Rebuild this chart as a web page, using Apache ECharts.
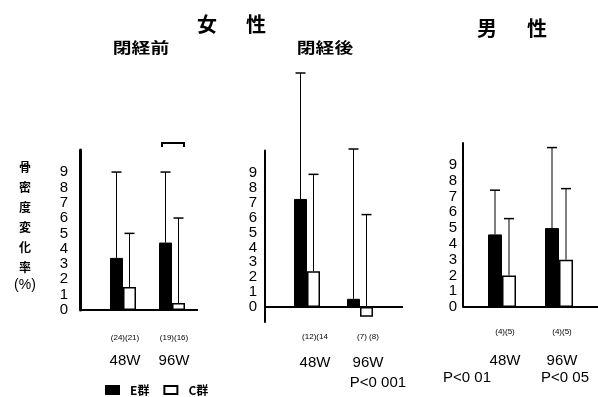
<!DOCTYPE html>
<html><head><meta charset="utf-8">
<script src="https://cdn.jsdelivr.net/npm/echarts@6/dist/echarts.min.js"></script>
<style>html,body{margin:0;padding:0;background:#fff}#c{width:598px;height:397px}</style>
</head><body><div id="c"></div>
<script>
// ---- data ----
const weeks = ['48W', '96W'];
const yTickLabels = ['0','1','2','3','4','5','6','7','8','9'];
// 女性 閉経前
const preE = [3.4, 4.4];
const preC = [1.5, 0.45];
const preEtop = [9.0, 9.0];
const preCtop = [5.0, 6.0];
const preN = ['(24)(21)', '(19)(16)'];
// 女性 閉経後
const postE = [7.25, 0.55];
const postC = [2.4, -0.65];
const postEtop = [15.7, 10.6];
const postCtop = [8.9, 6.2];
const postN = ['(12)(14', '(7) (8)'];
// 男性
const maleE = [4.6, 5.0];
const maleC = [2.0, 3.0];
const maleEtop = [7.4, 10.1];
const maleCtop = [5.6, 7.5];
const maleN = ['(4)(5)', '(4)(5)'];
// significance bracket (閉経前 96W)
const bracketVal = [[1, 10.9]];
const pTexts = ['P<0 001', 'P<0 01', 'P<0 05'];

// ---- layout / style ----
const JP = '"Noto Sans CJK JP", sans-serif';
const LAT = '"Liberation Sans", Arial, sans-serif';
const panels = [
  {grid:{left:98.5, top:150, width:98, height:160}, min:0, max:10.44, yOff:18.5, yW:3, lblM:12,
   extL:18.5, extR:1.5, barW:13, nM:24, wLH:38, pad:4, E:preE, C:preC, Et:preEtop, Ct:preCtop, N:preN},
  {grid:{left:280.5, top:150.5, width:106, height:171.4}, min:-1, max:10.5, yOff:15.5, yW:2, lblM:8,
   extL:15.5, extR:16.5, barW:13, nM:11, wLH:44, pad:16, E:postE, C:postC, Et:postEtop, Ct:postCtop, N:postN},
  {grid:{left:473.5, top:143, width:114, height:164}, min:0, max:10.39, yOff:10.5, yW:2, lblM:6,
   extL:10.5, extR:10.5, barW:14, nM:21, wLH:50, pad:6, E:maleE, C:maleC, Et:maleEtop, Ct:maleCtop, N:maleN}
];

function errSeries(gi, vals, tops, side, barW) {
  return {
    type: 'custom', xAxisIndex: gi, yAxisIndex: gi, clip: false, z: 5, silent: true,
    data: tops.map((t, i) => [i, Math.max(vals[i], 0), t]),
    renderItem(params, api) {
      const b = api.coord([api.value(0), api.value(1)]);
      const t = api.coord([api.value(0), api.value(2)]);
      const x = b[0] + side * barW / 2;
      return {type: 'group', children: [
        {type: 'line', shape: {x1: x, y1: b[1], x2: x, y2: t[1]}, style: {stroke: '#000', lineWidth: 1}},
        {type: 'line', shape: {x1: x - 5, y1: t[1], x2: x + 5, y2: t[1]}, style: {stroke: '#000', lineWidth: 1.5}}
      ]};
    }
  };
}

const grids = [], xAxes = [], yAxes = [], series = [];
panels.forEach((p, gi) => {
  grids.push(p.grid);
  const S = 2 * Math.max(p.extL, p.extR);
  xAxes.push({
    type: 'category', gridIndex: gi, data: weeks,
    axisLine: {show: true, onZero: true, lineStyle: {color: '#000', width: 2},
      symbol: ['rect', 'rect'], symbolSize: [2, S], symbolOffset: [S / 2 - p.extL, p.extR - S / 2]},
    axisTick: {show: false},
    axisLabel: {
      interval: 0, hideOverlap: false,
      margin: p.nM, padding: [0, 0, 0, p.pad],
      formatter: (v, i) => '{n|' + p.N[i] + '}\n{w|' + v + '}',
      rich: {
        n: {fontSize: 8, lineHeight: 8, fontFamily: LAT, color: '#000'},
        w: {fontSize: 15, lineHeight: p.wLH, fontFamily: LAT, color: '#000'}
      }
    }
  });
  yAxes.push({
    type: 'value', gridIndex: gi, min: p.min, max: p.max, interval: 1, offset: p.yOff,
    splitLine: {show: false}, axisTick: {show: false},
    axisLine: {show: true, lineStyle: {color: '#000', width: p.yW}},
    axisLabel: {margin: p.lblM, fontSize: 15, fontFamily: LAT, color: '#000',
      formatter: v => (v >= 0 && v <= 9 && Number.isInteger(v)) ? yTickLabels[v] : ''}
  });
  series.push({
    name: 'E群', type: 'bar', xAxisIndex: gi, yAxisIndex: gi, data: p.E, barWidth: p.barW, barGap: 0,
    itemStyle: {color: '#000', borderColor: '#000', borderWidth: 1}, z: 3
  });
  series.push({
    name: 'C群', type: 'bar', xAxisIndex: gi, yAxisIndex: gi, data: p.C, barWidth: p.barW, barGap: 0,
    itemStyle: {color: '#fff', borderColor: '#000', borderWidth: 1.5}, z: 3
  });
  series.push(errSeries(gi, p.E, p.Et, -1, p.barW));
  series.push(errSeries(gi, p.C, p.Ct, 1, p.barW));
});

series.push({
  type: 'custom', xAxisIndex: 0, yAxisIndex: 0, clip: false, silent: true, z: 5,
  data: bracketVal,
  renderItem(params, api) {
    const c = api.coord([api.value(0), api.value(1)]);
    return {type: 'polyline', shape: {points: [[c[0]-10, c[1]+4], [c[0]-10, c[1]], [c[0]+12, c[1]], [c[0]+12, c[1]+4]]},
      style: {stroke: '#000', lineWidth: 2, fill: null}};
  }
});

function txt(x, y, s, size, bold, fam, sx) {
  return {type: 'text', x: x, y: y, silent: true, scaleX: sx || 1,
    style: {text: s, fontSize: size, fontWeight: bold ? 'bold' : 'normal', fontFamily: fam || JP,
      fill: '#000', align: 'center', verticalAlign: 'middle'}};
}
const yName = ['骨','密','度','変','化','率'];
const graphics = [
  txt(207, 24, '女', 20, true), txt(256, 24, '性', 20, true),
  txt(487, 28, '男', 20, true), txt(537, 28, '性', 20, true),
  txt(141, 47, '閉経前', 15, true, JP, 1.25), txt(325, 47, '閉経後', 15, true, JP, 1.25),
  ...yName.map((ch, i) => txt(25, 167 + 20 * i, ch, 12, true)),
  txt(25, 285, '(%)', 14, false, LAT),
  txt(378, 383, pTexts[0], 15, false, LAT),
  txt(467, 378, pTexts[1], 15, false, LAT),
  txt(565, 378, pTexts[2], 15, false, LAT)
];

const chart = echarts.init(document.getElementById('c'), null, {renderer: 'canvas'});
chart.setOption({
  animation: false,
  backgroundColor: '#fff',
  grid: grids, xAxis: xAxes, yAxis: yAxes, series: series,
  legend: {data: ['E群', 'C群'], left: 100, top: 379, itemWidth: 13, itemHeight: 8, itemGap: 14, icon: 'rect',
    selectedMode: false,
    textStyle: {fontSize: 12, fontWeight: 'bold', fontFamily: JP, color: '#000', padding: [0, 0, 0, 6]}},
  graphic: graphics
});
</script></body></html>
